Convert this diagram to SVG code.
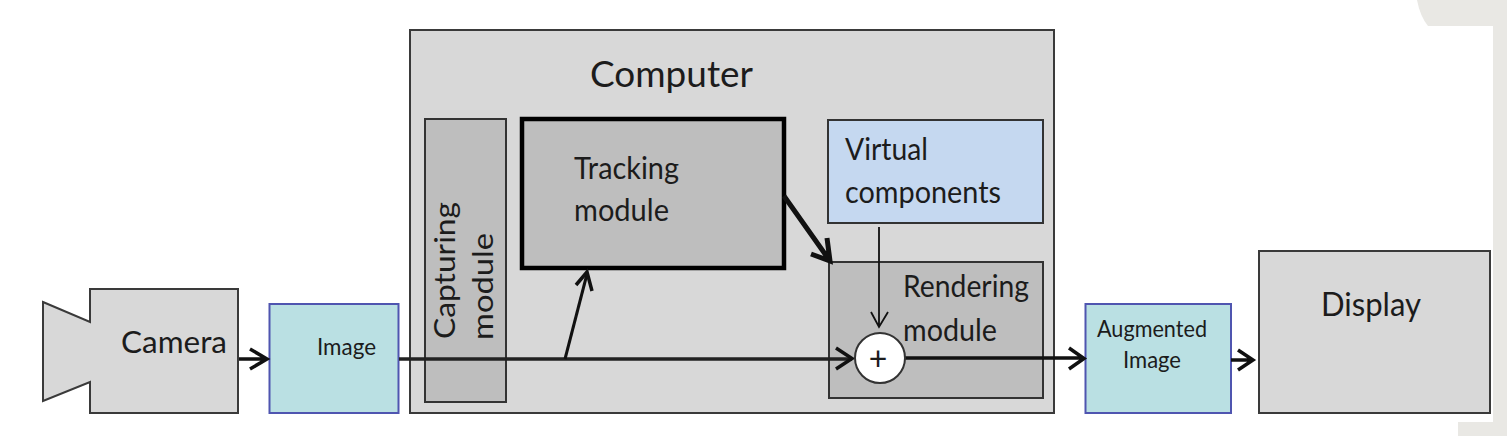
<svg xmlns="http://www.w3.org/2000/svg" width="1507" height="436" viewBox="0 0 1507 436">
<style>
text{font-family:"Lato","Carlito","Liberation Sans",sans-serif;fill:#1c1c1c;font-weight:400}
.g{fill:#d8d8d8;stroke:#3a3a3a;stroke-width:2}
.d{fill:#bebebe;stroke:#333;stroke-width:2}
.t{fill:#bae0e3;stroke:#4f55b0;stroke-width:2}
.c{fill:none;stroke:#111;stroke-width:3.5}
</style>
<rect width="1507" height="436" fill="#fff"/>
<path d="M1417 0H1507V436H1458V422H1493V26H1428Q1420 16 1417 0Z" fill="#e9e8e4"/>
<g id="computer"><rect class="g" x="410" y="30" width="644" height="383"/><text x="590" y="87" font-size="36" textLength="163" lengthAdjust="spacingAndGlyphs">Computer</text></g>
<g id="camera"><path class="g" d="M43 302L90 322V289H238V413H90V382L43 401Z"/><text x="121" y="353" font-size="30" textLength="106" lengthAdjust="spacingAndGlyphs">Camera</text></g>
<g id="image"><rect class="t" x="269.500" y="304" width="129" height="109"/><text x="317" y="355" font-size="23" textLength="59" lengthAdjust="spacingAndGlyphs">Image</text></g>
<g id="capturing"><rect class="d" x="425" y="119" width="81" height="283"/><text transform="translate(455 339) rotate(-90)" font-size="28" textLength="137" lengthAdjust="spacingAndGlyphs">Capturing</text><text transform="translate(493 340) rotate(-90)" font-size="28" textLength="107" lengthAdjust="spacingAndGlyphs">module</text></g>
<g id="tracking"><rect class="d" x="522" y="119" width="262" height="149" style="stroke:#000;stroke-width:4.500"/><text x="574" y="179" font-size="30" textLength="105" lengthAdjust="spacingAndGlyphs">Tracking</text><text x="574" y="221" font-size="30" textLength="95" lengthAdjust="spacingAndGlyphs">module</text></g>
<g id="virtual"><rect fill="#c5d8f0" stroke="#333" stroke-width="2" x="828" y="120" width="215" height="103"/><text x="845" y="160" font-size="30" textLength="83" lengthAdjust="spacingAndGlyphs">Virtual</text><text x="845" y="203" font-size="30" textLength="156" lengthAdjust="spacingAndGlyphs">components</text></g>
<g id="rendering"><rect class="d" x="829" y="262" width="214" height="136"/><text x="903" y="297" font-size="30" textLength="126" lengthAdjust="spacingAndGlyphs">Rendering</text><text x="903" y="341" font-size="30" textLength="94" lengthAdjust="spacingAndGlyphs">module</text></g>
<g id="augmented"><rect class="t" x="1085.500" y="304" width="145.500" height="109"/><text x="1097" y="337" font-size="24" textLength="110" lengthAdjust="spacingAndGlyphs">Augmented</text><text x="1123" y="368" font-size="24" textLength="58" lengthAdjust="spacingAndGlyphs">Image</text></g>
<g id="display"><rect class="g" x="1259" y="251" width="231" height="162"/><text x="1321" y="316" font-size="32" textLength="100" lengthAdjust="spacingAndGlyphs">Display</text></g>
<g id="connectors">
<path class="c" d="M239 359H267M250 349L267 359L250 369"/>
<path d="M399 359H852" fill="none" stroke="#222" stroke-width="3.500"/>
<path class="c" d="M836 348L852 358.500L836 369"/>
<path d="M565 359L587 274" fill="none" stroke="#111" stroke-width="3"/>
<path class="c" d="M576 285L587 272L592 291"/>
<path d="M784 196L830 261M811 254L830 261L827 238" fill="none" stroke="#111" stroke-width="5"/>
<path d="M879 227V327M871 312L879 327L888 312" fill="none" stroke="#111" stroke-width="1.800"/>
<path class="c" d="M905 358H1084M1069 348L1084 358.500L1069 369"/>
<path class="c" d="M1231 360H1253M1238 350L1253 360L1238 370"/>
</g>
<g id="sum"><circle cx="880" cy="358" r="25" fill="#fff" stroke="#333" stroke-width="2"/><text x="878" y="370" font-size="32" text-anchor="middle">+</text></g>
</svg>
